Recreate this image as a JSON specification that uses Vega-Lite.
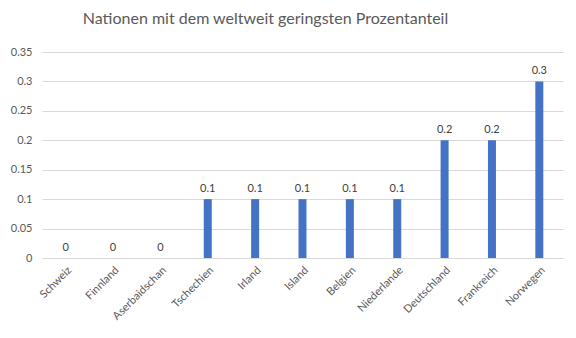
{
  "$schema": "https://vega.github.io/schema/vega-lite/v6.json",
  "autosize": {"type": "none"},
  "width": 521,
  "height": 206,
  "padding": {"left": 42, "top": 52, "right": 13, "bottom": 80},
  "background": "white",
  "title": {
    "text": "Nationen mit dem weltweit geringsten Prozentanteil",
    "fontSize": 16,
    "font": "Lato",
    "fontWeight": "normal",
    "color": "#595959",
    "anchor": "middle",
    "frame": "group",
    "dx": -37,
    "offset": 19
  },
  "data": {
    "values": [
      {"land": "Schweiz", "wert": 0},
      {"land": "Finnland", "wert": 0},
      {"land": "Aserbaidschan", "wert": 0},
      {"land": "Tschechien", "wert": 0.1},
      {"land": "Irland", "wert": 0.1},
      {"land": "Island", "wert": 0.1},
      {"land": "Belgien", "wert": 0.1},
      {"land": "Niederlande", "wert": 0.1},
      {"land": "Deutschland", "wert": 0.2},
      {"land": "Frankreich", "wert": 0.2},
      {"land": "Norwegen", "wert": 0.3}
    ]
  },
  "encoding": {
    "x": {
      "field": "land",
      "type": "nominal",
      "sort": null,
      "title": null,
      "axis": {
        "labelAngle": -45,
        "labelAlign": "right",
        "labelBaseline": "top",
        "labelFont": "Lato",
        "labelFontSize": 11,
        "labelColor": "#595959",
        "labelPadding": 6,
        "ticks": false,
        "domainColor": "#d9d9d9"
      }
    },
    "y": {
      "field": "wert",
      "type": "quantitative",
      "title": null,
      "scale": {"domain": [0, 0.35]},
      "axis": {
        "values": [0, 0.05, 0.1, 0.15, 0.2, 0.25, 0.3, 0.35],
        "labelExpr": "datum.value == 0 ? '0' : replace(format(datum.value, '.2~f'), /^0\\./, '0.')",
        "domain": false,
        "ticks": false,
        "gridColor": "#d9d9d9",
        "labelFont": "Lato",
        "labelFontSize": 11,
        "labelColor": "#595959",
        "labelPadding": 10
      }
    }
  },
  "layer": [
    {"mark": {"type": "bar", "color": "#4472C4", "size": 8}},
    {
      "mark": {"type": "text", "dy": -10, "font": "Lato", "fontSize": 11, "color": "#404040"},
      "encoding": {"text": {"field": "wert", "type": "quantitative"}}
    }
  ],
  "config": {"view": {"stroke": null}}
}
